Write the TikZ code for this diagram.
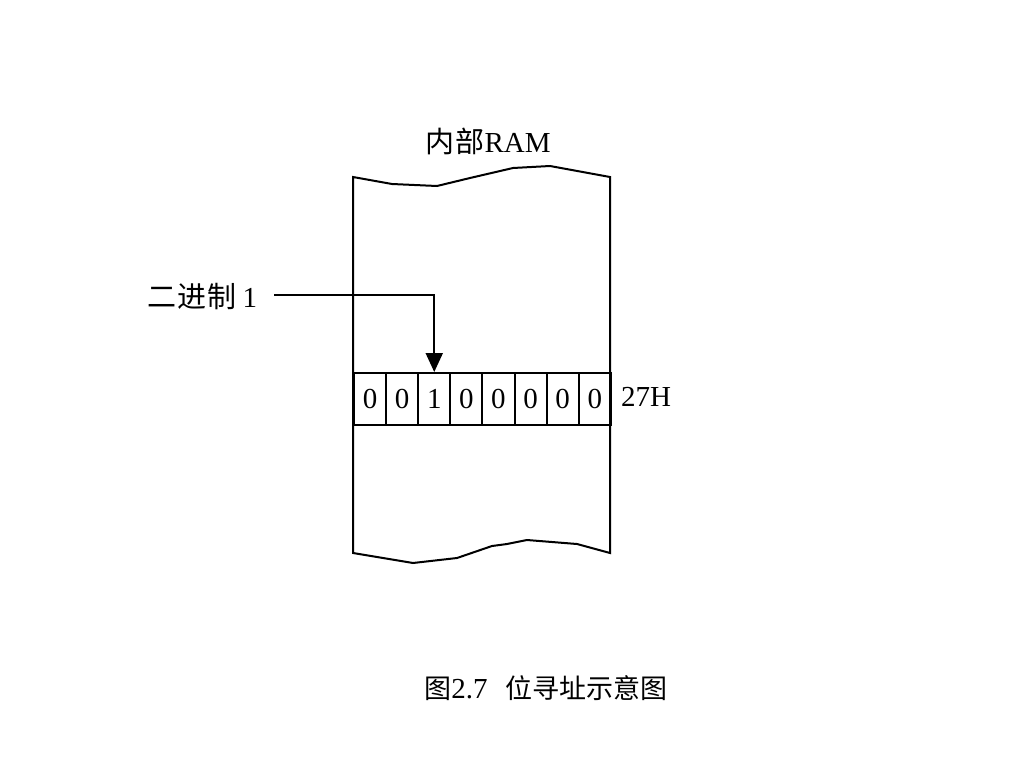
\documentclass[tikz,border=0pt]{standalone}
\usepackage{fontspec}
\setmainfont{Liberation Serif}
\newfontfamily\cjk[LetterSpace=4]{Noto Sans CJK SC}
\newfontfamily\cjkplain{Noto Sans CJK SC}
\usetikzlibrary{arrows.meta}
\begin{document}
\begin{tikzpicture}[x=1pt,y=-1pt,
  line width=2pt,
  txt/.style={font=\fontsize{29}{32}\selectfont, inner sep=0pt},
  bitcell/.style={draw, line width=2pt, minimum width=32.1pt, minimum height=52pt, inner sep=0pt, anchor=north west, font=\fontsize{29}{32}\selectfont}]
\useasboundingbox (0,0) rectangle (1024,768);
% memory outline
\draw (353,177) -- (392,184) -- (437,186) -- (470,178) -- (513,168) -- (550,166) -- (610,177)
  -- (610,553) -- (577,544) -- (527,540) -- (507,544) -- (492,546) -- (457,558) -- (413,563) -- (353,553) -- cycle;
% bit cells
\foreach \i/\v in {0/0,1/0,2/1,3/0,4/0,5/0,6/0,7/0}{
  \node[bitcell] (b\i) at ({353+\i*32.1},372) {\v};
}
\node[txt, anchor=west] (addr) at (620,397) {27H};
\node[txt] (title) at (488,141) {{\cjk 内部}RAM};
\node[txt, anchor=east] (lbl) at (258,297) {{\cjk 二进制}\hspace{6pt}1};
\draw[-{Triangle[length=19pt,width=17pt]}] ([xshift=16pt]lbl.east |- 0,295) -| (b2.north);
\node[txt] (cap) at (546,688) {{\cjkplain\fontsize{27}{30}\selectfont 图}2.7\hspace{18pt}{\cjkplain\fontsize{27}{30}\selectfont 位寻址示意图}};
\end{tikzpicture}
\end{document}
